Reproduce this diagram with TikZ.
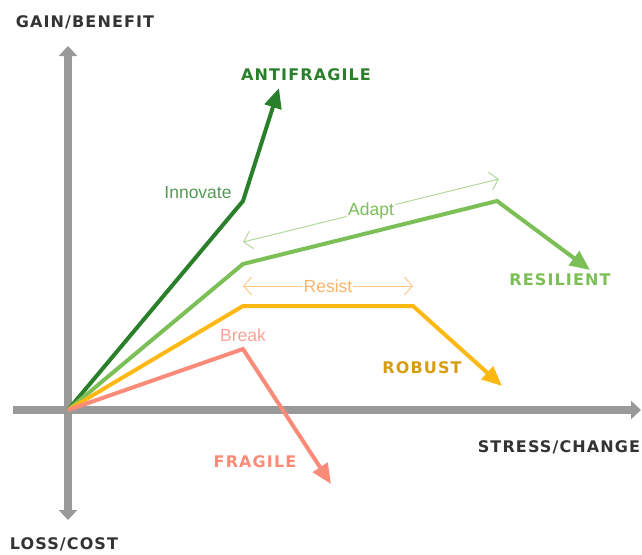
\documentclass[tikz,border=0pt]{standalone}
\usepackage{fontspec}
\setmainfont{Liberation Sans}
\newfontfamily\capsfont[LetterSpace=7]{DejaVu Sans}
\usetikzlibrary{arrows.meta}
\definecolor{axisgrey}{HTML}{999999}
\definecolor{antigreen}{HTML}{2A7F2A}
\definecolor{resgreen}{HTML}{7CBF56}
\definecolor{adaptgreen}{HTML}{B2D99A}
\definecolor{robustorange}{HTML}{FDB813}
\definecolor{resistorange}{HTML}{FDCB85}
\definecolor{resisttext}{HTML}{FBB46A}
\definecolor{fragilered}{HTML}{F98B78}
\tikzset{
  axisline/.style={draw=axisgrey, line width=8pt},
  curve/.style={line width=4pt, line join=miter, -{Triangle[length=20pt,width=17pt]}},
  span/.style={line width=1pt, {Straight Barb[length=8pt,width=18pt]}-{Straight Barb[length=8pt,width=18pt]}},
  biglabel/.style={font=\capsfont\bfseries\fontsize{16}{18}\selectfont},
  smalllabel/.style={font=\fontsize{17.5}{20}\selectfont},
}
\begin{document}
\begin{tikzpicture}[x=1pt,y=-1pt]
\useasboundingbox (0,0) rectangle (642,554);
% axes
\coordinate (O) at (68,410);
\coordinate (ytop) at (68,46);
\coordinate (ybot) at (68,520);
\coordinate (xleft) at (13,410);
\coordinate (xright) at (641,410);
\draw[axisline, -{Triangle[length=10pt,width=18pt]}] (O) -- (ytop);
\draw[axisline, -{Triangle[length=10pt,width=18pt]}] (O) -- (ybot);
\draw[axisline, -{Triangle[length=10pt,width=18pt]}] (xleft) -- (xright);
\node[biglabel, text=black!80] (gain) at (85,22) {GAIN/BENEFIT};
\node[biglabel, text=black!80] (loss) at (64,544) {LOSS/COST};
\node[biglabel, text=black!80] (stress) at (559,447) {STRESS/CHANGE};
% antifragile
\coordinate (a1) at (243,201);
\coordinate (a2) at (279,88);
\draw[curve, antigreen] (O) -- (a1) -- (a2);
\node[biglabel, text=antigreen] (antilbl) at (306,75) {ANTIFRAGILE};
\node[smalllabel, text=antigreen!80] (innov) at (198,193) {Innovate};
% resilient
\coordinate (r1) at (243,264);
\coordinate (r2) at (497,201);
\coordinate (r3) at (590,270);
\draw[curve, resgreen] (O) -- (r1) -- (r2) -- (r3);
\node[biglabel, text=resgreen] (reslbl) at (560,280) {RESILIENT};
\coordinate (ad1) at (243,242);
\coordinate (ad2) at (499,179);
\draw[span, adaptgreen] (ad1) -- node[smalllabel, text=resgreen, fill=white, inner sep=1pt] (adapt) {Adapt} (ad2);
% robust
\coordinate (b1) at (243,306);
\coordinate (b2) at (413,306);
\coordinate (b3) at (502,386);
\draw[curve, robustorange] (O) -- (b1) -- (b2) -- (b3);
\node[biglabel, text=robustorange!85!black] (roblbl) at (422,368) {ROBUST};
\coordinate (rs1) at (243,286);
\coordinate (rs2) at (413,286);
\draw[span, resistorange] (rs1) -- node[smalllabel, text=resisttext, fill=white, inner sep=1pt] (resist) {Resist} (rs2);
% fragile
\coordinate (f1) at (243,349);
\coordinate (f2) at (331,484);
\draw[curve, fragilered] (O) -- (f1) -- (f2);
\node[biglabel, text=fragilered] (fraglbl) at (255,462) {FRAGILE};
\node[smalllabel, text=fragilered!80] (break) at (243,335) {Break};
\end{tikzpicture}
\end{document}
